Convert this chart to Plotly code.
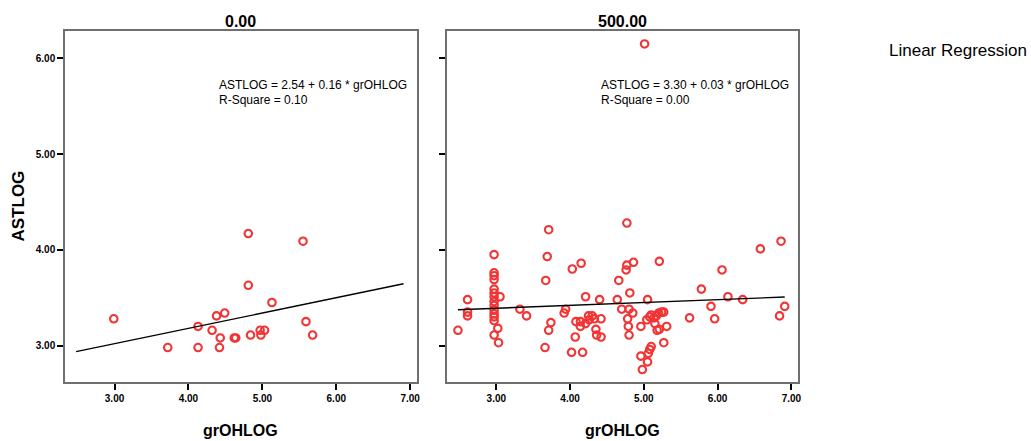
import plotly.graph_objects as go

# Panel labels (grouping variable values)
panel_labels = ["0.00", "500.00"]

# Panel 0.00 observations
gr_ohlog_0 = [2.99, 3.72, 4.13, 4.13, 4.32, 4.38, 4.49, 4.43, 4.42, 4.62, 4.64,
              4.81, 4.81, 4.84, 4.97, 4.98, 5.03, 5.13, 5.55, 5.59, 5.68]
astlog_0 = [3.28, 2.98, 3.20, 2.98, 3.16, 3.31, 3.34, 3.08, 2.98, 3.08, 3.08,
            4.17, 3.63, 3.11, 3.16, 3.11, 3.16, 3.45, 4.09, 3.25, 3.11]

# Panel 500.00 observations
gr_ohlog_500 = [2.48, 2.61, 2.61, 2.61, 2.97, 2.97, 2.97, 2.97, 2.97, 2.97, 2.97,
                2.97, 2.97, 2.97, 2.97, 2.97, 2.97, 2.97, 3.05, 3.02, 3.03, 3.32,
                3.41, 3.66, 3.67, 3.69, 3.71, 3.71, 3.74, 3.92, 3.94, 4.02, 4.03,
                4.07, 4.08, 4.14, 4.14, 4.15, 4.17, 4.21, 4.21, 4.25, 4.26, 4.30,
                4.33, 4.35, 4.36, 4.40, 4.42, 4.42, 4.64, 4.66, 4.70, 4.76, 4.77,
                4.77, 4.78, 4.79, 4.80, 4.80, 4.81, 4.85, 4.86, 4.96, 4.96, 4.98,
                5.01, 5.04, 5.05, 5.05, 5.06, 5.08, 5.08, 5.10, 5.10, 5.14, 5.15,
                5.17, 5.18, 5.20, 5.21, 5.21, 5.24, 5.27, 5.27, 5.31, 5.62, 5.78,
                5.91, 5.96, 6.06, 6.14, 6.34, 6.58, 6.84, 6.86, 6.91]
astlog_500 = [3.16, 3.48, 3.35, 3.31, 3.95, 3.76, 3.73, 3.69, 3.59, 3.55, 3.51,
              3.46, 3.42, 3.37, 3.33, 3.30, 3.26, 3.11, 3.51, 3.18, 3.03, 3.38,
              3.31, 2.98, 3.68, 3.93, 4.21, 3.16, 3.24, 3.34, 3.38, 2.93, 3.80,
              3.09, 3.25, 3.25, 3.20, 3.86, 2.93, 3.51, 3.23, 3.31, 3.27, 3.31,
              3.28, 3.17, 3.11, 3.48, 3.28, 3.09, 3.48, 3.68, 3.38, 3.79, 3.84,
              4.28, 3.28, 3.20, 3.11, 3.38, 3.55, 3.34, 3.87, 3.20, 2.89, 2.75,
              6.15, 3.27, 3.48, 2.83, 2.92, 2.96, 3.30, 2.99, 3.32, 3.29, 3.23,
              3.31, 3.16, 3.34, 3.17, 3.88, 3.35, 3.35, 3.03, 3.20, 3.29, 3.59,
              3.41, 3.28, 3.79, 3.51, 3.48, 4.01, 3.31, 4.09, 3.41]

# Fitted regression lines: ASTLOG = intercept + slope * grOHLOG
intercepts = [2.54, 3.30]
slopes = [0.16, 0.03]
r_squares = [0.10, 0.00]

x_tick_vals = [3, 4, 5, 6, 7]
x_tick_text = ["3.00", "4.00", "5.00", "6.00", "7.00"]
y_tick_vals = [3, 4, 5, 6]
y_tick_text = ["3.00", "4.00", "5.00", "6.00"]

FONT = "Liberation Sans, Arial, sans-serif"
RED = "#f23434"

xs = [gr_ohlog_0, gr_ohlog_500]
ys = [astlog_0, astlog_500]
x_lo = min(min(v) for v in xs)
x_hi = max(max(v) for v in xs)

fig = go.Figure()
for i in range(2):
    xa = "x" if i == 0 else "x2"
    ya = "y" if i == 0 else "y2"
    fig.add_trace(go.Scatter(
        x=xs[i], y=ys[i], mode="markers", xaxis=xa, yaxis=ya,
        marker=dict(symbol="circle-open", size=7.5, color=RED,
                    line=dict(color=RED, width=2.1)),
        showlegend=False, hoverinfo="x+y"))
    fig.add_trace(go.Scatter(
        x=[x_lo, x_hi],
        y=[intercepts[i] + slopes[i] * x_lo, intercepts[i] + slopes[i] * x_hi],
        mode="lines", xaxis=xa, yaxis=ya,
        line=dict(color="black", width=1.4),
        showlegend=False, hoverinfo="skip"))

axis_common = dict(
    showgrid=False, zeroline=False, showline=True, mirror=True,
    linecolor="#6f6f6f", linewidth=1.5,
    ticks="outside", ticklen=6, tickwidth=2, tickcolor="black",
    tickfont=dict(family=FONT, size=10, color="black", weight="bold"),
)

x_range = [2.33, 7.09]
y_range = [2.62, 6.285]

fig.update_layout(
    width=1031, height=441,
    margin=dict(l=65, r=233, t=31, b=59),
    paper_bgcolor="white", plot_bgcolor="white",
    xaxis=dict(domain=[0, 0.480], range=x_range, tickvals=x_tick_vals,
               ticktext=x_tick_text, **axis_common),
    xaxis2=dict(domain=[0.521, 1], range=x_range, tickvals=x_tick_vals,
                ticktext=x_tick_text, **axis_common),
    yaxis=dict(domain=[0, 1], range=y_range, tickvals=y_tick_vals,
               ticktext=y_tick_text, anchor="x", **axis_common),
    yaxis2=dict(domain=[0, 1], range=y_range, tickvals=y_tick_vals,
                ticktext=y_tick_text, anchor="x2", showticklabels=False,
                **axis_common),
)

annotations = []
panel_refs = ["x domain", "x2 domain"]
for i in range(2):
    xref = panel_refs[i]
    yref = "y domain" if i == 0 else "y2 domain"
    annotations.append(dict(
        text="<b>%s</b>" % panel_labels[i], xref=xref, yref=yref,
        x=0.5, y=1, yshift=10, xanchor="center", yanchor="middle",
        showarrow=False, font=dict(family=FONT, size=16, color="black")))
    annotations.append(dict(
        text="<b>grOHLOG</b>", xref=xref, yref=yref,
        x=0.5, y=0, yshift=-48, xanchor="center", yanchor="middle",
        showarrow=False, font=dict(family=FONT, size=16, color="black")))
    annotations.append(dict(
        text="ASTLOG = %.2f + %.2f * grOHLOG" % (intercepts[i], slopes[i]),
        xref=xref, yref=yref, x=0.432, y=0.846,
        xanchor="left", yanchor="middle", showarrow=False,
        font=dict(family=FONT, size=12, color="black")))
    annotations.append(dict(
        text="R-Square = %.2f" % r_squares[i],
        xref=xref, yref=yref, x=0.432, y=0.803,
        xanchor="left", yanchor="middle", showarrow=False,
        font=dict(family=FONT, size=12, color="black")))

annotations.append(dict(
    text="<b>ASTLOG</b>", xref="paper", yref="paper", x=0, y=0.5,
    xshift=-47, textangle=-90, xanchor="center", yanchor="middle",
    showarrow=False, font=dict(family=FONT, size=17, color="black")))
annotations.append(dict(
    text="Linear Regression", xref="paper", yref="paper", x=1, y=1,
    xshift=89, yshift=-19, xanchor="left", yanchor="middle",
    showarrow=False, font=dict(family=FONT, size=17, color="black")))

fig.update_layout(annotations=annotations)
fig.write_html("out.html")
